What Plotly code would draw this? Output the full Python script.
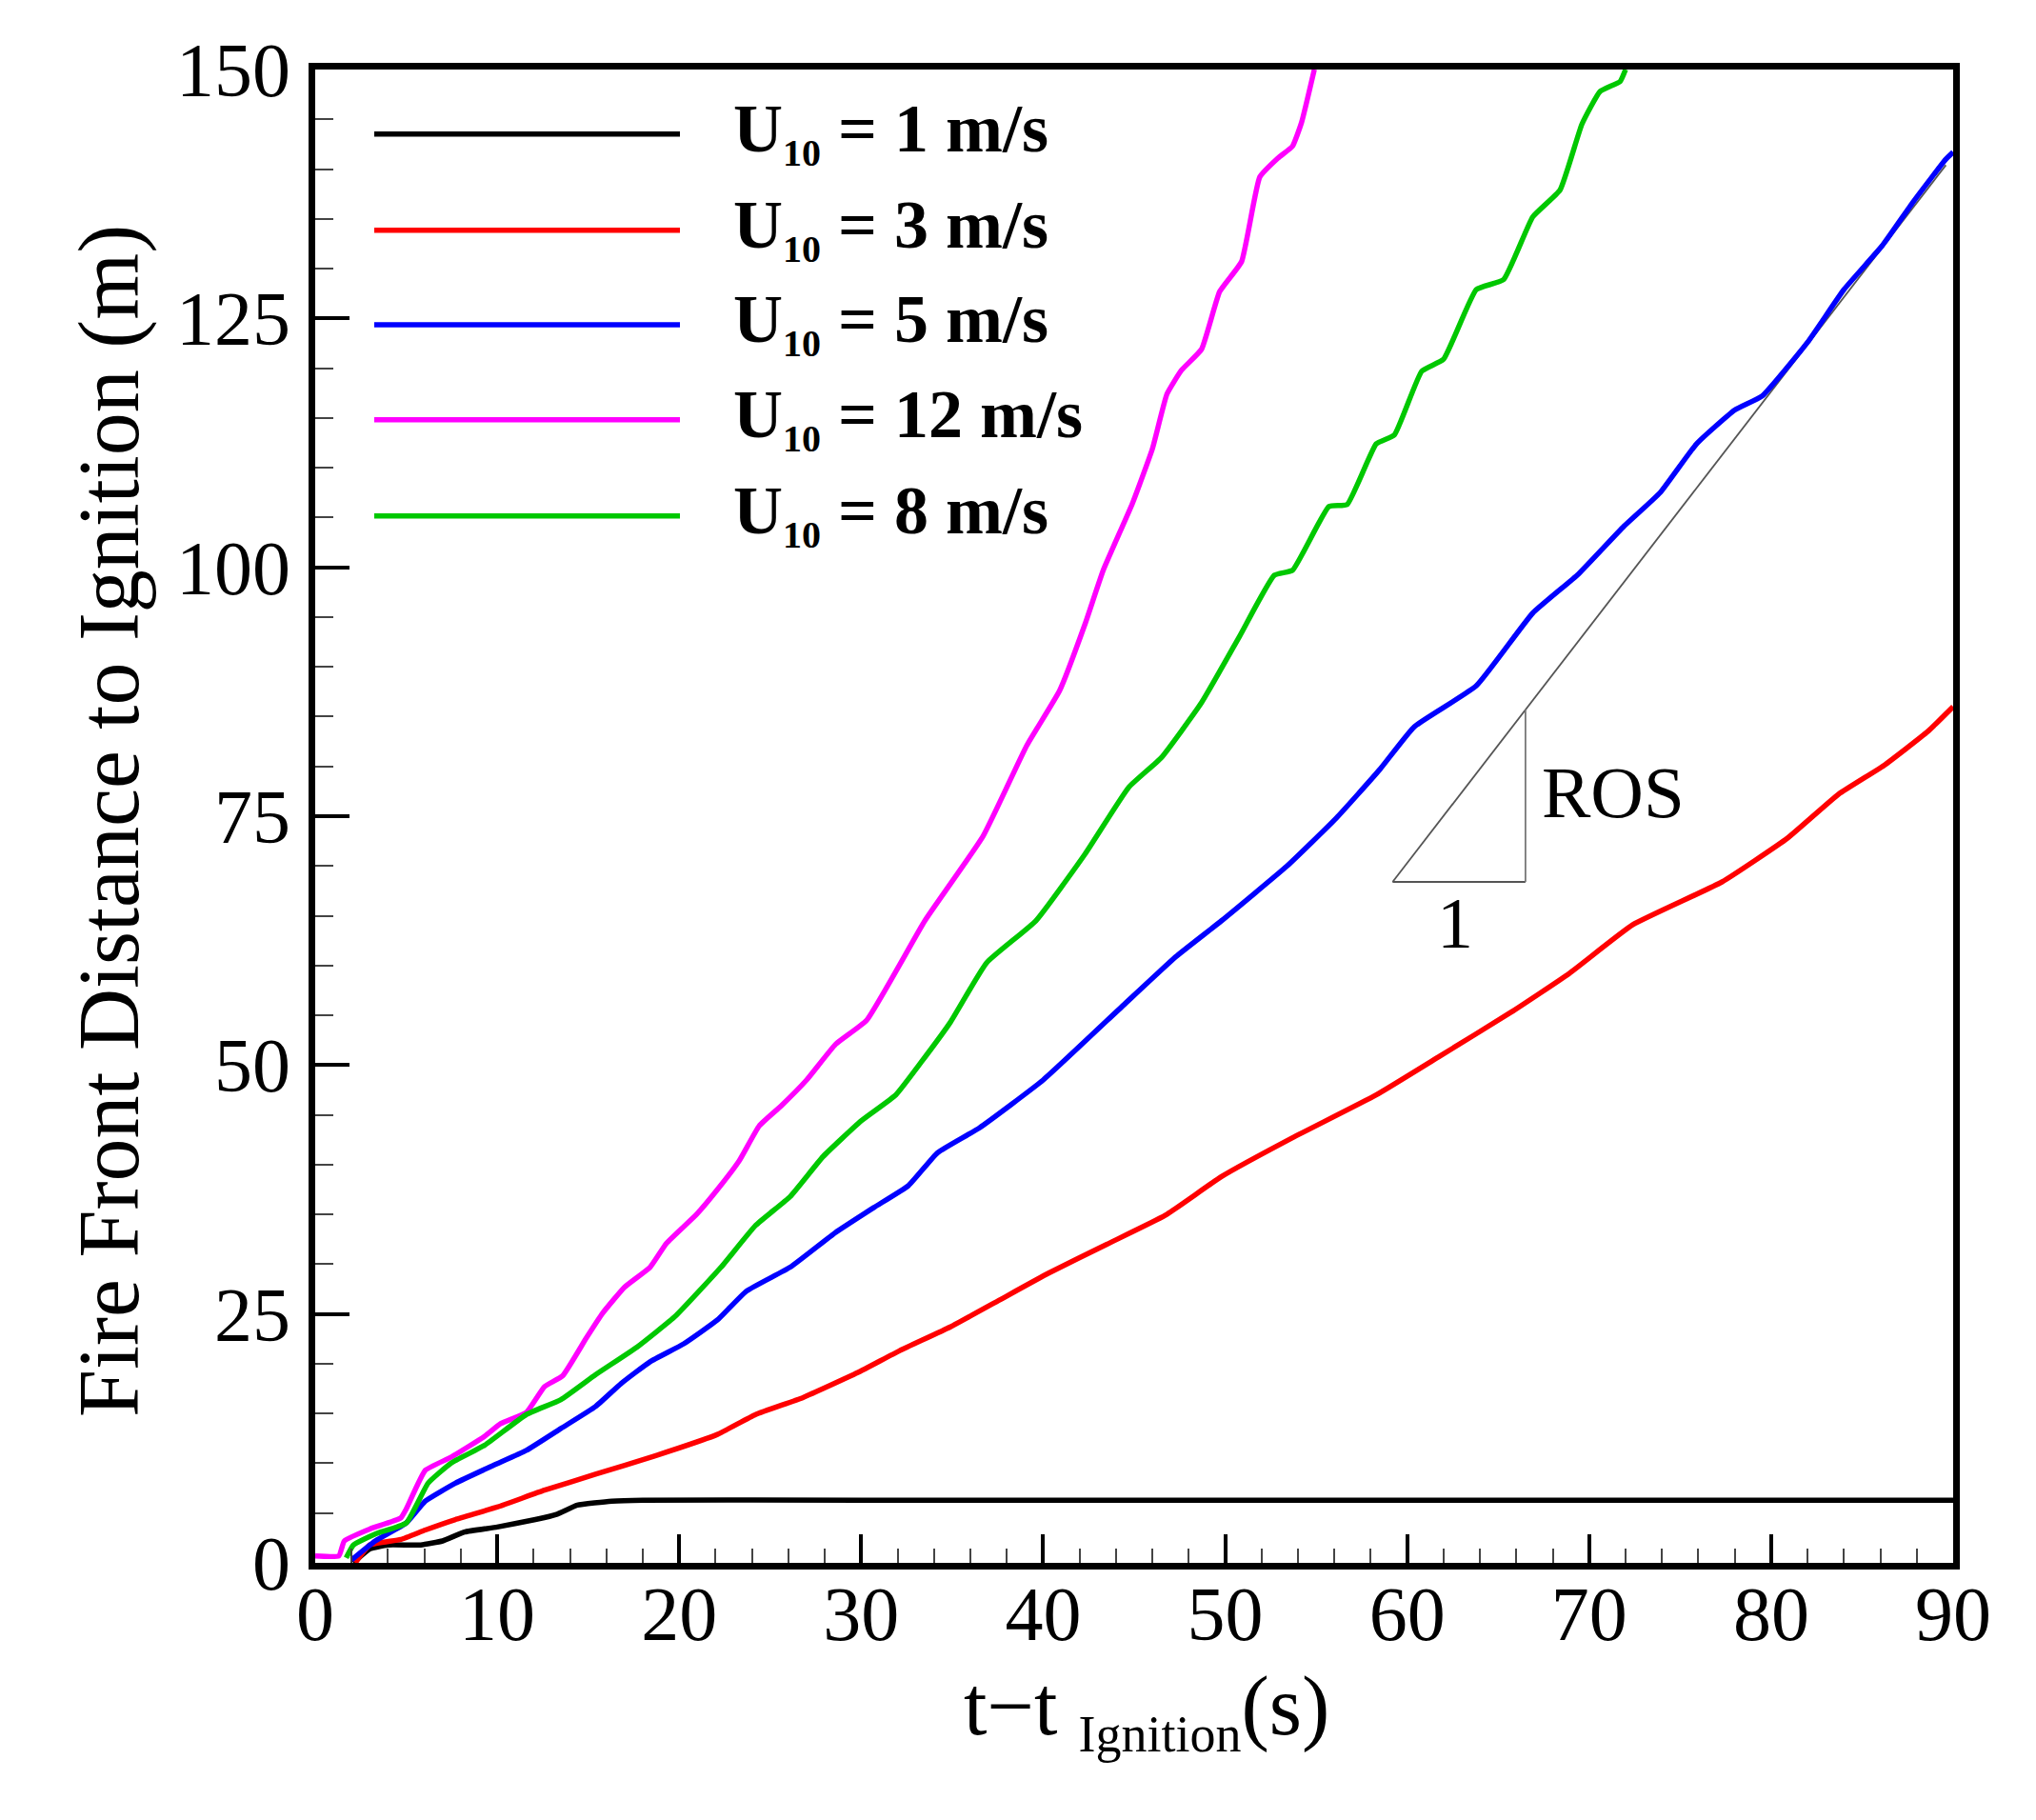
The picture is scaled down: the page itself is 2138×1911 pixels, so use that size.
import plotly.graph_objects as go

# ---------------- data ----------------
t_u1 = [2.1, 3.0, 4.0, 5.8, 7.0, 8.2, 10.0, 12.1, 13.3, 14.4, 16.3, 18.0, 30.0, 50.0, 70.0, 90.0]
d_u1 = [0.0, 1.4, 1.8, 1.8, 2.2, 3.1, 3.6, 4.35, 4.9, 5.8, 6.2, 6.3, 6.3, 6.3, 6.3, 6.3]

t_u3 = [2.2, 3.0, 4.7, 6.05, 7.7, 10.0, 12.6, 15.4, 18.6, 22.1, 24.2, 26.8, 29.8, 32.1, 34.9, 37.5,
        40.3, 43.5, 46.7, 49.8, 53.7, 58.3, 61.8, 65.7, 68.9, 72.4, 77.3, 80.9, 83.7, 86.2, 88.6, 90.0]
d_u3 = [0.0, 1.8, 2.35, 3.3, 4.35, 5.6, 7.3, 8.9, 10.7, 12.9, 14.9, 16.6, 19.1, 21.3, 23.7, 26.3,
        29.1, 32.0, 34.9, 38.8, 42.7, 47.0, 50.9, 55.3, 59.2, 64.1, 68.4, 72.8, 77.2, 80.1, 83.5, 86.0]

t_u5 = [2.0, 3.3, 5.0, 6.05, 7.7, 9.8, 11.6, 13.5, 15.4, 16.8, 18.4, 20.25, 22.1, 23.7, 26.1, 28.6,
        30.7, 32.6, 34.2, 36.5, 40.0, 44.4, 47.3, 49.8, 53.4, 56.1, 58.5, 60.4, 63.8, 66.9, 69.4,
        71.9, 73.9, 75.9, 78.0, 79.5, 82.0, 84.0, 86.1, 87.8, 89.6, 90.0]
d_u5 = [0.3, 2.2, 4.0, 6.2, 8.0, 9.8, 11.3, 13.5, 15.7, 18.0, 20.2, 22.0, 24.4, 27.3, 29.7, 33.2,
        35.7, 37.9, 41.2, 43.7, 48.5, 56.0, 60.9, 64.5, 70.0, 74.8, 79.7, 84.0, 88.1, 95.4, 99.3,
        104.1, 107.5, 112.4, 115.8, 117.2, 122.6, 127.9, 132.3, 136.7, 141.0, 141.7]

t_u12 = [0.0, 1.3, 1.6, 3.0, 4.7, 5.0, 6.05, 7.45, 9.3, 10.2, 11.6, 12.6, 13.6, 14.9, 15.8, 17.0,
         18.4, 19.3, 20.95, 22.1, 23.3, 24.4, 25.6, 27.0, 28.6, 30.3, 33.5, 36.7, 39.1, 40.9, 42.3,
         43.3, 44.9, 46.0, 46.8, 47.6, 48.7, 49.7, 50.9, 51.9, 52.9, 53.7, 54.2, 54.9]
d_u12 = [0.7, 0.7, 2.2, 3.4, 4.5, 5.4, 9.3, 10.6, 12.7, 14.0, 15.1, 17.7, 18.8, 22.6, 25.1, 27.7,
         29.7, 32.1, 35.0, 37.5, 40.4, 43.9, 45.9, 48.5, 52.1, 54.5, 64.5, 73.0, 82.1, 87.6, 94.3,
         99.7, 106.4, 111.9, 117.4, 119.8, 121.9, 127.7, 130.7, 139.2, 141.1, 142.3, 144.7, 150.0]

t_u8 = [1.7, 2.1, 3.3, 5.0, 6.2, 7.45, 9.3, 11.6, 13.5, 15.4, 17.7, 19.8, 22.3, 24.2, 26.1, 27.9,
        30.0, 31.9, 33.3, 34.9, 36.9, 39.6, 42.3, 44.7, 46.5, 48.7, 50.8, 52.7, 53.7, 55.7, 56.7,
        58.3, 59.3, 60.8, 62.0, 63.8, 65.3, 66.9, 68.4, 69.6, 70.6, 71.7, 72.0]
d_u8 = [0.5, 1.8, 2.9, 4.0, 8.0, 10.0, 11.8, 14.9, 16.4, 18.9, 21.7, 24.8, 29.7, 33.9, 36.8, 40.8,
        44.4, 47.0, 50.3, 54.3, 60.3, 64.5, 71.2, 77.9, 80.9, 86.4, 93.1, 99.2, 99.7, 106.1, 106.3,
        112.4, 113.3, 119.7, 120.9, 127.9, 128.9, 135.2, 137.9, 144.5, 147.8, 148.8, 150.0]

series_names = ["1", "3", "5", "12", "8"]
series_colors = ["#000000", "#ff0000", "#0000ff", "#ff00ff", "#00c800"]
series_t = [t_u1, t_u3, t_u5, t_u12, t_u8]
series_d = [d_u1, d_u3, d_u5, d_u12, d_u8]

# ROS slope triangle (data coordinates)
ros_x = [59.2, 66.5, 89.6]
ros_y = [68.4, 85.7, 140.4]

x_ticks = [0, 10, 20, 30, 40, 50, 60, 70, 80, 90]
y_ticks = [0, 25, 50, 75, 100, 125, 150]

SERIF = "Liberation Serif, Times New Roman, serif"

# ---------------- layout geometry (pixels) ----------------
# the page body has an 8px default margin, so the figure is drawn 8px in from the corner
OFF = 8
W, H = 2130, 1903
ML, MT = 323, 65
PW, PH = 1720, 1568
MR, MB = W - ML - PW, H - MT - PH


def px_x(px):
    return (px - OFF - ML) / PW


def px_y(py):
    return (MT + PH - (py - OFF)) / PH


fig = go.Figure()
for name, col, t, d in zip(series_names, series_colors, series_t, series_d):
    fig.add_trace(go.Scatter(x=t, y=d, mode="lines", name=f"U10 = {name} m/s",
                             line=dict(color=col, width=5.5, shape="spline", smoothing=0.4),
                             showlegend=False))

# slope triangle
x0, x1, x2 = ros_x
y0, y1, y2 = ros_y
shapes = [
    dict(type="line", xref="x", yref="y", x0=x0, y0=y0, x1=x2, y1=y2,
         line=dict(color="#555555", width=1.8), layer="below"),
    dict(type="line", xref="x", yref="y", x0=x0, y0=y0, x1=x1, y1=y0,
         line=dict(color="#555555", width=1.8), layer="below"),
    dict(type="line", xref="x", yref="y", x0=x1, y0=y0, x1=x1, y1=y1,
         line=dict(color="#777777", width=1.8), layer="below"),
]

annotations = [
    dict(x=x1 + 0.8, y=(y0 + y1) / 2, xref="x", yref="y", text="ROS", showarrow=False,
         xanchor="left", yanchor="middle", yshift=4,
         font=dict(family=SERIF, size=77, color="black")),
    dict(x=(x0 + x1) / 2 - 0.2, y=y0 - 4.3, xref="x", yref="y", text="1", showarrow=False,
         xanchor="center", yanchor="middle", yshift=2,
         font=dict(family=SERIF, size=76, color="black")),
]

# manual legend (long line samples, as in the reference)
leg_py = [140.7, 241.8, 341.0, 440.7, 541.8]
for py, name, col in zip(leg_py, series_names, series_colors):
    yy = px_y(py)
    shapes.append(dict(type="line", xref="paper", yref="paper", x0=px_x(393), x1=px_x(714),
                       y0=yy, y1=yy, line=dict(color=col, width=5.5)))
    annotations.append(dict(
        x=px_x(768), y=yy, xref="paper", yref="paper", xanchor="left", yanchor="middle",
        yshift=2, showarrow=False,
        text=f"<b>U<sub><span style='font-size:40px'>10</span></sub> = {name} m/s</b>",
        font=dict(family=SERIF, size=72, color="black")))

# axis titles
annotations.append(dict(
    x=px_x(1204), y=px_y(1797), xref="paper", yref="paper", xanchor="center", yanchor="middle",
    showarrow=False,
    text="t\u2212t <sub><span style='font-size:54px'>Ignition</span></sub>(s)",
    font=dict(family=SERIF, size=88, color="black")))
annotations.append(dict(
    x=px_x(115), y=px_y(862), xref="paper", yref="paper", xanchor="center", yanchor="middle",
    showarrow=False, textangle=-90, text="Fire Front Distance to Ignition (m)",
    font=dict(family=SERIF, size=90, color="black")))

fig.update_layout(
    width=W, height=H,
    margin=dict(l=ML, r=MR, t=MT, b=MB),
    paper_bgcolor="white", plot_bgcolor="white",
    shapes=shapes, annotations=annotations, showlegend=False,
    font=dict(family=SERIF, color="black"),
)

fig.update_xaxes(
    range=[0, 90], tickmode="array", tickvals=x_ticks, ticktext=[str(v) for v in x_ticks],
    showgrid=False, zeroline=False, showline=True, linecolor="black", linewidth=7, mirror=True,
    ticks="inside", ticklen=30, tickwidth=4, tickcolor="black",
    minor=dict(dtick=2, ticks="inside", ticklen=15, tickwidth=2, tickcolor="#444444", showgrid=False),
    tickfont=dict(family=SERIF, size=80, color="black"),
)
fig.update_yaxes(
    range=[0, 150], tickmode="array", tickvals=y_ticks, ticktext=[str(v) for v in y_ticks],
    showgrid=False, zeroline=False, showline=True, linecolor="black", linewidth=7, mirror=True,
    ticks="inside", ticklen=36, tickwidth=4, tickcolor="black",
    minor=dict(dtick=5, ticks="inside", ticklen=19, tickwidth=2, tickcolor="#444444", showgrid=False),
    tickfont=dict(family=SERIF, size=80, color="black"),
)
try:
    fig.update_xaxes(ticklabelstandoff=-22)
except Exception:
    pass
try:
    fig.update_yaxes(ticklabelstandoff=3)
except Exception:
    pass

fig.write_html("out.html")
